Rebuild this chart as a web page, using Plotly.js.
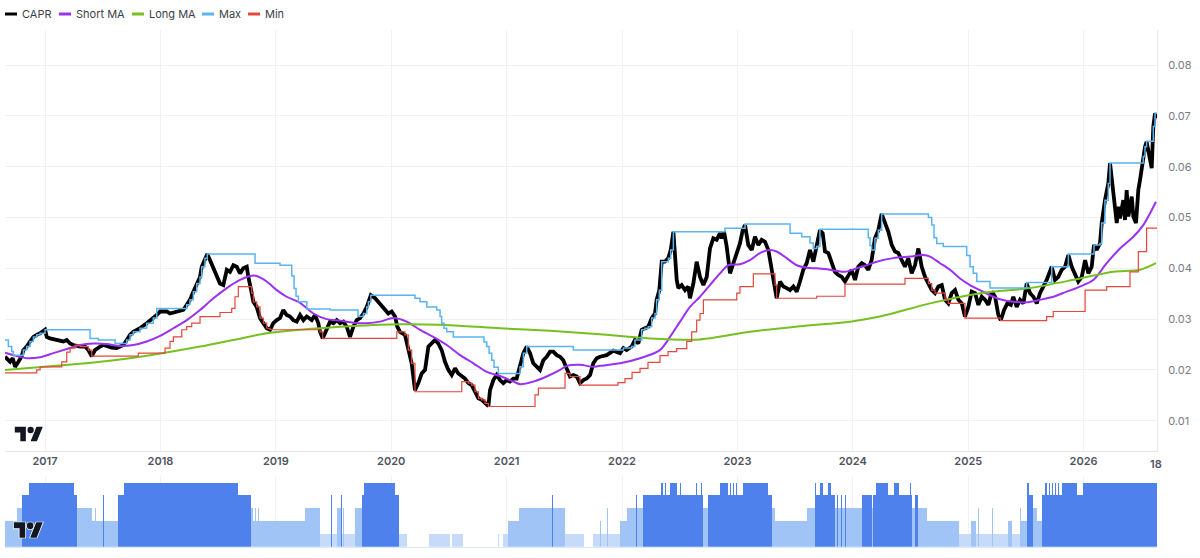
<!DOCTYPE html>
<html>
<head>
<meta charset="utf-8">
<script src="https://cdn.plot.ly/plotly-3.0.1.min.js"></script>
<style>html,body{margin:0;padding:0;background:#fff;}#chart{width:1200px;height:558px;}</style>
</head>
<body>
<div id="chart"></div>
<script>
// ---- CAPR (decimal year / value) ----
const capT = [
2016.653,2016.697,2016.720,2016.740,2016.769,2016.798,2016.812,2016.841,2016.870,2016.899,
2016.928,2016.957,2017.000,2017.015,2017.043,2017.101,2017.159,2017.188,2017.217,2017.245,
2017.303,2017.347,2017.375,2017.405,2017.433,2017.477,2017.505,2017.535,2017.578,2017.621,
2017.650,2017.679,2017.708,2017.737,2017.765,2017.823,2017.881,2017.938,2017.968,2017.997,
2018.055,2018.083,2018.141,2018.198,2018.228,2018.256,2018.285,2018.315,2018.343,2018.358,
2018.386,2018.406,2018.430,2018.459,2018.488,2018.516,2018.545,2018.560,2018.575,2018.603,
2018.632,2018.661,2018.690,2018.718,2018.748,2018.762,2018.776,2018.791,2018.805,2018.834,
2018.863,2018.892,2018.921,2018.950,2018.978,2019.008,2019.036,2019.065,2019.094,2019.123,
2019.152,2019.181,2019.210,
2019.239,2019.268,2019.311,2019.340,2019.368,2019.383,2019.406,2019.441,2019.470,2019.499,
2019.528,2019.557,2019.585,2019.614,2019.643,2019.672,2019.701,2019.730,2019.759,2019.788,
2019.802,2019.823,2019.860,2019.888,2019.918,2019.946,2019.975,2020.004,2020.033,2020.053,
2020.076,2020.119,2020.148,2020.177,2020.206,2020.235,2020.264,2020.293,2020.322,2020.351,
2020.379,2020.408,2020.437,2020.466,2020.495,2020.524,2020.553,2020.581,2020.611,2020.639,
2020.668,2020.697,2020.726,2020.755,2020.784,2020.813,2020.842,2020.856,2020.885,2020.914,
2020.943,2020.971,2021.001,2021.029,2021.058,2021.087,2021.116,2021.145,2021.174,2021.203,
2021.231,2021.261,2021.289,2021.318,2021.347,2021.376,2021.405,2021.434,2021.463,2021.491,
2021.521,2021.549,2021.578,2021.607,2021.636,2021.665,2021.694,2021.723,2021.751,2021.781,
2021.809,2021.867,2021.925,2021.983,2022.012,
2022.040,2022.084,2022.112,2022.141,2022.170,2022.199,2022.228,2022.257,2022.286,2022.300,
2022.323,2022.344,2022.372,2022.401,2022.422,2022.445,2022.459,2022.474,2022.488,2022.517,
2022.546,2022.574,2022.589,2022.618,2022.647,2022.676,2022.705,2022.734,2022.762,2022.791,
2022.820,2022.849,2022.864,2022.884,2022.907,2022.936,2022.965,2022.994,2023.022,2023.046,
2023.066,2023.094,2023.124,2023.152,2023.181,2023.210,2023.239,2023.268,2023.297,2023.326,
2023.340,2023.369,2023.398,2023.427,2023.456,2023.485,2023.514,2023.542,2023.571,2023.600,
2023.629,2023.658,2023.687,2023.715,2023.739,2023.759,2023.788,2023.817,2023.845,2023.874,
2023.904,2023.932,2023.961,2023.990,2024.019,2024.047,2024.077,2024.105,2024.134,2024.163,
2024.192,2024.221,2024.250,2024.279,2024.308,2024.337,2024.366,2024.394,
2024.424,2024.452,2024.481,2024.510,2024.539,2024.568,2024.597,2024.626,2024.655,2024.684,
2024.712,2024.741,2024.771,2024.799,2024.828,2024.857,2024.886,2024.915,2024.944,2024.972,
2025.001,2025.030,2025.059,2025.088,2025.117,2025.146,2025.175,2025.204,2025.233,2025.261,
2025.282,2025.311,2025.339,2025.369,2025.391,2025.420,2025.449,2025.478,2025.507,2025.536,
2025.565,2025.594,2025.622,2025.651,2025.680,2025.724,2025.752,2025.781,2025.810,2025.839,
2025.868,2025.897,2025.926,2025.954,2025.984,2026.013,2026.041,2026.070,2026.090,2026.113,
2026.142,2026.157,2026.185,2026.214,2026.229,2026.243,2026.257,2026.272,2026.287,2026.301,
2026.315,2026.344,2026.359,2026.373,2026.388,2026.417,2026.431,2026.454,2026.474,2026.489,
2026.503,2026.517,2026.532,2026.546,2026.560,2026.575,2026.590,2026.604,2026.619,2026.633
];
const capV = [
.0226,.0216,.0223,.0206,.0216,.0227,.0239,.0246,.0256,.0265,
.0269,.0272,.0279,.0265,.0262,.0259,.0256,.0259,.0252,.0249,
.0246,.0246,.0239,.0227,.0239,.0246,.0249,.0247,.0244,.0243,
.0247,.0249,.0259,.0269,.0275,.0282,.0292,.0302,.0308,.0315,
.0315,.0311,.0315,.0318,.0328,.0338,.0354,.0370,.0383,.0403,
.0420,.0428,.0416,.0400,.0383,.0370,.0367,.0387,.0397,.0393,
.0406,.0403,.0390,.0400,.0403,.0383,.0370,.0351,.0334,.0324,
.0302,.0292,.0282,.0279,.0292,.0298,.0302,.0318,.0308,.0305,
.0298,.0295,.0308,
.0298,.0305,.0298,.0308,.0292,.0275,.0262,.0282,.0295,.0292,
.0298,.0292,.0295,.0285,.0265,.0285,.0298,.0302,.0311,.0324,
.0334,.0347,.0341,.0334,.0324,.0318,.0311,.0315,.0305,.0285,
.0275,.0269,.0239,.0213,.0160,.0174,.0193,.0200,.0246,.0252,
.0259,.0252,.0239,.0216,.0200,.0190,.0203,.0193,.0187,.0183,
.0174,.0170,.0157,.0144,.0141,.0134,.0129,.0160,.0180,.0190,
.0180,.0174,.0180,.0177,.0183,.0183,.0206,.0233,.0246,.0233,
.0213,.0206,.0200,.0219,.0226,.0236,.0236,.0229,.0226,.0219,
.0203,.0187,.0190,.0187,.0174,.0180,.0183,.0190,.0213,.0223,
.0226,.0229,.0238,.0233,.0243,
.0239,.0246,.0259,.0252,.0279,.0282,.0285,.0302,.0311,.0338,
.0357,.0413,.0413,.0420,.0436,.0472,.0410,.0377,.0361,.0367,
.0357,.0364,.0341,.0370,.0413,.0383,.0367,.0383,.0439,.0459,
.0456,.0469,.0459,.0472,.0443,.0390,.0410,.0430,.0449,.0475,
.0485,.0446,.0436,.0462,.0446,.0456,.0452,.0436,.0397,.0367,
.0341,.0374,.0364,.0361,.0357,.0364,.0354,.0374,.0397,.0410,
.0436,.0413,.0443,.0475,.0469,.0433,.0430,.0410,.0393,.0387,
.0383,.0374,.0387,.0397,.0377,.0403,.0410,.0406,.0397,.0416,
.0459,.0475,.0507,.0489,.0472,.0446,.0433,.0430,
.0416,.0403,.0420,.0390,.0406,.0439,.0403,.0383,.0370,.0357,
.0351,.0364,.0367,.0338,.0331,.0351,.0357,.0338,.0331,.0305,
.0324,.0354,.0351,.0328,.0344,.0338,.0328,.0354,.0344,.0308,
.0298,.0318,.0331,.0328,.0344,.0324,.0338,.0331,.0370,.0351,
.0344,.0331,.0351,.0364,.0377,.0403,.0377,.0383,.0397,.0403,
.0426,.0403,.0390,.0374,.0383,.0416,.0390,.0403,.0446,.0436,
.0449,.0489,.0534,.0567,.0607,.0580,.0541,.0515,.0489,.0521,
.0498,.0534,.0495,.0554,.0502,.0541,.0502,.0489,.0554,.0574,
.0600,.0620,.0639,.0649,.0633,.0617,.0597,.0679,.0705,.0695
];

// ---- Short MA ----
const smaT = [
2016.653,2016.725,2016.841,2016.957,2017.072,2017.188,2017.303,2017.419,2017.535,2017.650,
2017.765,2017.881,2017.997,2018.112,2018.228,2018.343,2018.459,2018.575,2018.690,2018.776,
2018.834,2018.921,2019.008,2019.094,2019.210,2019.325,2019.441,2019.557,2019.672,2019.788,
2019.903,2020.018,2020.134,2020.250,2020.365,2020.481,2020.596,2020.712,2020.828,2020.943,
2021.058,2021.116,2021.231,2021.347,2021.463,2021.521,2021.636,2021.751,2021.809,2021.983,
2022.156,2022.329,2022.416,2022.503,2022.589,2022.676,2022.762,2022.849,2022.921,2023.022,
2023.109,2023.195,2023.282,2023.340,2023.427,2023.514,2023.600,2023.687,2023.773,2023.860,
2023.932,2024.034,2024.120,2024.207,2024.351,2024.496,2024.611,2024.669,2024.756,2024.842,
2024.929,2025.016,2025.102,2025.189,2025.276,2025.391,2025.507,2025.622,2025.738,2025.853,
2025.969,2026.084,2026.200,2026.315,2026.431,2026.517,2026.575,2026.627
];
const smaV = [
.0234,.0229,.0223,.0225,.0233,.0241,.0249,.0252,.0251,.0247,
.0249,.0256,.0267,.0282,.0298,.0318,.0341,.0361,.0377,.0385,
.0385,.0374,.0357,.0344,.0332,.0311,.0300,.0297,.0293,.0292,
.0295,.0302,.0295,.0279,.0265,.0249,.0229,.0213,.0196,.0188,
.0177,.0172,.0177,.0187,.0200,.0208,.0210,.0206,.0208,.0213,
.0223,.0239,.0265,.0295,.0324,.0344,.0367,.0390,.0406,.0408,
.0416,.0430,.0436,.0433,.0420,.0406,.0401,.0400,.0398,.0395,
.0393,.0400,.0406,.0413,.0420,.0423,.0426,.0423,.0410,.0397,
.0380,.0367,.0357,.0347,.0339,.0334,.0333,.0338,.0344,.0354,
.0364,.0377,.0410,.0439,.0462,.0485,.0508,.0531
];

// ---- Long MA ----
const lmaT = [
2016.653,2017.477,2017.910,2018.343,2018.632,2018.921,2019.210,2019.643,2020.076,2020.510,
2020.943,2021.376,2021.809,2022.242,2022.676,2023.109,2023.542,2023.975,2024.235,2024.669,
2025.102,2025.536,2025.969,2026.257,2026.489,2026.627
];
const lmaV = [
.0200,.0216,.0229,.0246,.0259,.0272,.0279,.0286,.0290,.0288,
.0282,.0277,.0270,.0262,.0260,.0275,.0286,.0295,.0305,.0331,
.0351,.0361,.0380,.0393,.0397,.0410
];

// ---- Max (step) ----
const maxT = [
2016.653,2016.682,2016.711,2016.725,2016.812,2016.841,2016.870,2016.899,2016.928,2016.957,
2017.000,2017.390,2017.462,2017.607,2017.708,2017.737,2017.765,2017.823,2017.881,2017.938,
2017.968,2018.228,2018.256,2018.285,2018.315,2018.343,2018.358,2018.386,2018.406,2018.820,
2019.036,2019.138,2019.158,2019.175,2019.195,2019.268,2019.470,2019.712,2019.759,2019.788,
2019.802,2019.823,2020.206,2020.250,2020.308,2020.394,2020.423,2020.437,2020.457,2020.481,
2020.538,2020.804,2020.828,2020.848,2020.871,2020.891,2020.928,2021.116,2021.145,2021.174,
2021.578,2022.012,2022.084,2022.112,2022.170,2022.199,2022.228,2022.257,2022.286,2022.300,
2022.323,2022.344,2022.401,2022.422,2022.445,2022.892,2023.066,2023.456,2023.557,2023.629,
2023.658,2023.687,2023.715,2024.134,2024.149,2024.163,2024.192,2024.221,2024.250,2024.655,
2024.684,2024.704,2024.727,2024.784,2024.987,2025.016,2025.044,2025.074,2025.189,2025.507,
2025.724,2025.868,2026.090,2026.142,2026.157,2026.185,2026.214,2026.229,2026.517,2026.532,
2026.546,2026.604,2026.619,2026.636
];
const maxV = [
.0259,.0246,.0236,.0229,.0239,.0246,.0256,.0265,.0269,.0272,
.0279,.0262,.0259,.0252,.0259,.0269,.0275,.0282,.0292,.0302,
.0321,.0328,.0338,.0354,.0370,.0383,.0403,.0420,.0428,.0410,
.0406,.0385,.0360,.0345,.0334,.0320,.0318,.0305,.0311,.0324,
.0334,.0347,.0341,.0334,.0324,.0318,.0305,.0292,.0282,.0275,
.0265,.0255,.0246,.0233,.0219,.0205,.0193,.0206,.0233,.0246,
.0239,.0243,.0246,.0259,.0279,.0282,.0285,.0302,.0311,.0338,
.0357,.0413,.0420,.0436,.0472,.0479,.0487,.0469,.0462,.0450,
.0439,.0443,.0477,.0460,.0445,.0436,.0459,.0475,.0507,.0500,
.0485,.0460,.0449,.0443,.0425,.0403,.0390,.0374,.0361,.0372,
.0403,.0428,.0446,.0449,.0489,.0534,.0567,.0607,.0620,.0639,
.0650,.0679,.0705,.0705
];

// ---- Min (step) ----
const minT = [
2016.653,2016.928,2016.957,2017.145,2017.188,2017.217,2017.260,2017.303,2017.375,2017.405,
2017.808,2018.040,2018.083,2018.112,2018.185,2018.228,2018.271,2018.343,2018.516,2018.618,
2018.646,2018.675,2018.791,2018.805,2018.834,2018.863,2018.892,2018.921,2018.950,2019.383,
2019.406,2020.048,2020.119,2020.148,2020.177,2020.206,2020.611,2020.668,2020.697,2020.726,
2020.755,2020.784,2020.813,2020.842,2021.246,2021.275,2021.506,2021.549,2021.636,2021.965,
2022.026,2022.087,2022.156,2022.225,2022.329,2022.399,2022.474,2022.561,2022.604,2022.647,
2022.676,2022.705,2022.994,2023.022,2023.138,2023.326,2023.340,2023.687,2023.932,2024.452,
2024.655,2024.684,2024.712,2024.799,2024.828,2024.972,2025.282,2025.680,2025.737,2026.013,
2026.200,2026.402,2026.474,2026.546,2026.636
];
const minV = [
.0194,.0200,.0206,.0216,.0235,.0243,.0249,.0246,.0239,.0227,
.0233,.0243,.0256,.0265,.0279,.0285,.0292,.0305,.0313,.0321,
.0344,.0364,.0351,.0334,.0324,.0302,.0292,.0282,.0279,.0275,
.0262,.0275,.0269,.0239,.0213,.0157,.0177,.0174,.0170,.0157,
.0144,.0141,.0134,.0128,.0151,.0164,.0193,.0187,.0170,.0175,
.0183,.0195,.0203,.0215,.0228,.0236,.0242,.0256,.0275,.0298,
.0311,.0338,.0351,.0364,.0389,.0367,.0341,.0345,.0369,.0380,
.0370,.0357,.0351,.0338,.0331,.0302,.0297,.0305,.0315,.0357,
.0364,.0393,.0433,.0479,.0479
];

// ---- Lower pane: level segments (start time, level 0-5) ----
const segT = [
2016.653,2016.757,2016.801,2016.861,2017.251,2017.277,2017.407,2017.433,2017.442,2017.503,
2017.511,2017.633,2017.685,2018.672,2018.785,2018.802,2018.820,2018.828,2018.846,2018.854,
2019.253,2019.301,2019.309,2019.383,2019.478,2019.487,2019.530,2019.561,2019.569,2019.582,
2019.591,2019.686,2019.743,2019.764,2020.033,2020.063,2020.137,2020.323,2020.505,2020.527,
2020.618,2020.925,2020.931,2020.947,2020.951,2020.969,2021.016,2021.103,2021.372,2021.376,
2021.393,2021.398,2021.506,2021.671,2021.749,2021.809,2021.818,2021.870,2021.879,2021.983,
2022.043,2022.117,2022.126,2022.186,2022.342,2022.351,2022.372,2022.381,2022.416,2022.477,
2022.503,2022.511,2022.641,2022.650,2022.685,2022.693,2022.702,2022.745,2022.849,2022.918,
2022.936,2022.944,2022.962,2022.970,2022.988,2022.996,2023.048,2023.265,2023.300,2023.326,
2023.603,2023.672,2023.685,2023.716,2023.742,2023.785,2023.811,2023.846,2023.863,2023.872,
2023.894,2023.902,2023.932,2023.941,2024.080,2024.166,2024.175,2024.201,2024.305,2024.357,
2024.401,2024.496,2024.504,2024.513,2024.539,2024.565,2024.643,2024.920,2025.024,2025.068,
2025.085,2025.094,2025.202,2025.211,2025.345,2025.380,2025.449,2025.458,2025.510,2025.527,
2025.562,2025.597,2025.640,2025.666,2025.683,2025.700,2025.709,2025.726,2025.735,2025.752,
2025.761,2025.778,2025.787,2025.813,2025.943,2025.995
];
const segEnd = 2026.636;
const segL = [
2,3,4,5,4,3,2,3,2,4,
2,4,5,4,3,2,3,2,3,2,
3,4,3,1,4,1,3,4,1,3,
1,3,4,5,4,1,0,1,0,1,
0,1,0,1,0,1,2,3,4,3,
4,3,1,0,1,2,1,3,1,2,
3,4,3,4,5,4,5,4,5,4,
5,4,5,4,5,4,3,4,5,4,
5,4,5,4,5,4,5,4,3,2,
3,5,4,5,4,5,4,3,4,3,
4,3,4,3,4,3,4,5,4,5,
4,5,4,3,4,3,2,1,2,1,
3,1,3,1,2,1,3,2,5,4,
3,2,4,5,4,5,4,5,4,5,
4,5,4,5,4,5
];
const levelColors = ['rgba(0,0,0,0)','#c6dafa','#a0c4f6','#a0c4f6','#4e81eb','#4e81eb'];

// ---- axes ----
const yearVals = [2017,2018,2019,2020,2021,2022,2023,2024,2025,2026];
const yearLabels = ['2017','2018','2019','2020','2021','2022','2023','2024','2025','2026'];
const xRange = [2016.653, 2026.636];

const seriesNames = ['CAPR','Short MA','Long MA','Max','Min'];
const seriesColors = ['#000000','#9b30f2','#76c11f','#5ab4f0','#e3473d'];

// build bars from segments
const barX = [], barW = [], barY = [], barC = [];
for (let i = 0; i < segT.length; i++) {
  const s = segT[i];
  const e = i + 1 < segT.length ? segT[i + 1] : segEnd;
  barX.push((s + e) / 2);
  barW.push(e - s);
  barY.push(segL[i]);
  barC.push(levelColors[segL[i]]);
}

const traces = [
  {x: capT, y: capV, name: seriesNames[0], type: 'scatter', mode: 'lines',
   line: {color: seriesColors[0], width: 3.8}, xaxis: 'x', yaxis: 'y'},
  {x: smaT, y: smaV, name: seriesNames[1], type: 'scatter', mode: 'lines',
   line: {color: seriesColors[1], width: 2, shape: 'spline', smoothing: 0.8}, xaxis: 'x', yaxis: 'y'},
  {x: lmaT, y: lmaV, name: seriesNames[2], type: 'scatter', mode: 'lines',
   line: {color: seriesColors[2], width: 2, shape: 'spline', smoothing: 0.8}, xaxis: 'x', yaxis: 'y'},
  {x: maxT, y: maxV, name: seriesNames[3], type: 'scatter', mode: 'lines',
   line: {color: seriesColors[3], width: 1.5, shape: 'hv'}, xaxis: 'x', yaxis: 'y'},
  {x: minT, y: minV, name: seriesNames[4], type: 'scatter', mode: 'lines',
   line: {color: seriesColors[4], width: 1.2, shape: 'hv'}, xaxis: 'x', yaxis: 'y'},
  {x: barX, y: barY, width: barW, type: 'bar', name: 'Level',
   marker: {color: barC, line: {width: 0}}, xaxis: 'x2', yaxis: 'y2', showlegend: false}
];

// legend built from annotations + shapes
const W = 1152, H = 558, L = 5;
const px = v => (v - L) / W;
const py = v => 1 - v / H;
const legendPos = [[5, 21], [59, 75], [132, 148], [202, 218], [248, 264]];
const annotations = [], shapes = [];
seriesNames.forEach((n, i) => {
  const [sx, tx] = legendPos[i];
  shapes.push({type: 'line', xref: 'paper', yref: 'paper', x0: px(sx), x1: px(sx + 12),
    y0: py(14), y1: py(14), line: {color: seriesColors[i], width: 3}});
  annotations.push({text: n, xref: 'paper', yref: 'paper', x: px(tx - 1), y: py(14),
    xanchor: 'left', yanchor: 'middle', showarrow: false,
    font: {family: 'Inter, sans-serif', size: 11, color: '#3b3f4a'}});
});
annotations.push({text: '18', xref: 'paper', yref: 'paper', x: px(1148), y: py(464),
  xanchor: 'left', yanchor: 'middle', showarrow: false,
  font: {family: 'Inter, sans-serif', size: 11, color: '#50535e', weight: 600}});

const logoSvg = '<svg xmlns="http://www.w3.org/2000/svg" viewBox="-1 3 38 20">' +
  '<g fill="#131722" stroke="#ffffff" stroke-width="2" paint-order="stroke">' +
  '<path d="M14 22H7V11H0V4h14v18zM28 22h-8l7.5-18h8L28 22z"/><circle cx="20" cy="8" r="4"/></g></svg>';
const logoSrc = 'data:image/svg+xml;charset=utf-8,' + encodeURIComponent(logoSvg);

const layout = {
  width: 1200, height: 558,
  margin: {l: L, r: 43, t: 0, b: 0},
  paper_bgcolor: '#ffffff', plot_bgcolor: '#ffffff',
  showlegend: false,
  font: {family: 'Inter, sans-serif'},
  xaxis: {domain: [0, 1], anchor: 'y', range: xRange, tickvals: yearVals, ticktext: yearLabels,
    showgrid: true, gridcolor: '#f2f2f4', gridwidth: 1, zeroline: false,
    showline: true, linecolor: '#e3e5ea', linewidth: 1, ticks: '',
    tickfont: {family: 'Inter, sans-serif', size: 11, color: '#50535e', weight: 600}},
  yaxis: {domain: [1 - 451 / H, 1 - 30 / H], range: [0.00404, 0.0869], side: 'right',
    tick0: 0, dtick: 0.01, tickformat: '.2f', showgrid: true, gridcolor: '#f2f2f4', zeroline: false,
    showline: true, linecolor: '#e8eaee', ticks: '', ticklabelstandoff: 8,
    tickfont: {family: 'Inter, sans-serif', size: 11, color: '#787b86'}},
  xaxis2: {domain: [0, 1], anchor: 'y2', range: xRange, tickvals: yearVals, showticklabels: false,
    showgrid: true, gridcolor: '#f2f2f4', zeroline: false, ticks: '',
    showline: true, linecolor: '#dce8fb', linewidth: 1},
  yaxis2: {domain: [1 - 546.7 / H, 1 - 476.3 / H], range: [0, 5.5], visible: false, fixedrange: true},
  bargap: 0,
  annotations: annotations,
  shapes: shapes,
  images: [
    {source: logoSrc, xref: 'paper', yref: 'paper', x: px(14), y: py(426), sizex: 30 / W, sizey: 16 / H,
     xanchor: 'left', yanchor: 'top', sizing: 'stretch', layer: 'above'},
    {source: logoSrc, xref: 'paper', yref: 'paper', x: px(13), y: py(521.5), sizex: 31 / W, sizey: 17 / H,
     xanchor: 'left', yanchor: 'top', sizing: 'stretch', layer: 'above'}
  ]
};

Plotly.newPlot('chart', traces, layout, {staticPlot: true, displayModeBar: false});
</script>
</body>
</html>
